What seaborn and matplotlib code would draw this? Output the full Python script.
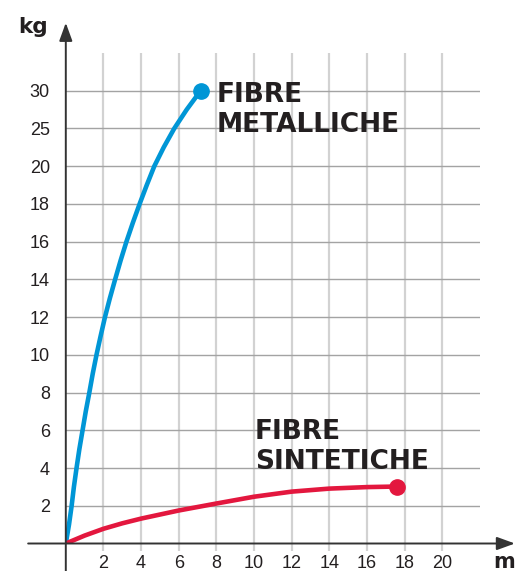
import numpy as np
import seaborn as sns
import matplotlib
matplotlib.use("Agg")
import matplotlib.pyplot as plt

# dati (m = metri, kg = carico)
metal_kg = [0, 1, 2, 3, 4, 5, 6, 7, 8, 9, 10, 11, 12, 13, 14, 15, 16, 17, 18, 19, 20,
            22.5, 25, 27.5, 30]
metal_m = [0, 0.17, 0.31, 0.43, 0.57, 0.72, 0.89, 1.06, 1.25, 1.43, 1.63, 1.85, 2.08,
           2.34, 2.62, 2.91, 3.22, 3.56, 3.92, 4.30, 4.70, 5.20, 5.76, 6.42, 7.16]

sint_m = [0, 1, 2, 3, 4, 6, 8, 10, 12, 14, 16, 17.6]
sint_kg = [0, 0.42, 0.78, 1.07, 1.32, 1.75, 2.12, 2.48, 2.75, 2.91, 2.99, 3.02]

x_ticks = [2, 4, 6, 8, 10, 12, 14, 16, 18, 20]
y_ticks = [2, 4, 6, 8, 10, 12, 14, 16, 18, 20, 25, 30]

BLUE = "#0096d6"
RED = "#e3173e"
INK = "#231f20"

sns.set_theme(style="white")
plt.rcParams["font.family"] = ["Liberation Sans", "DejaVu Sans"]


# asse y non lineare: passo 2 fino a 20, poi passo 5
def fwd(v):
    v = np.asarray(v, dtype=float)
    return np.where(v <= 20, v / 2, 10 + (v - 20) / 5)


def inv(i):
    i = np.asarray(i, dtype=float)
    return np.where(i <= 10, i * 2, 20 + (i - 10) * 5)


fig = plt.figure(figsize=(5.15, 5.71), dpi=100)
ax = fig.add_axes([65.8 / 515, 27.5 / 571, 22 * 18.83 / 515, 13 * 37.73 / 571])

sns.lineplot(x=metal_m, y=metal_kg, ax=ax, color=BLUE, lw=3.3, sort=False, estimator=None)
sns.lineplot(x=sint_m, y=sint_kg, ax=ax, color=RED, lw=3.3, sort=False, estimator=None)
ax.plot(metal_m[-1], metal_kg[-1], "o", color=BLUE, ms=11, zorder=5)
ax.plot(sint_m[-1], sint_kg[-1], "o", color=RED, ms=11, zorder=5)

ax.set_yscale("function", functions=(fwd, inv))
ax.set_xlim(0, 22)
ax.set_ylim(0, 35)

ax.set_xticks(x_ticks, labels=[str(t) for t in x_ticks])
ax.set_yticks(y_ticks, labels=[str(t) for t in y_ticks])
ax.tick_params(axis="x", length=5, width=1.6, color="#d2d2d2", pad=3.2,
               labelsize=13, labelcolor=INK, bottom=True)
ax.tick_params(axis="y", length=0, pad=11.4, labelsize=13, labelcolor=INK)

ax.grid(axis="x", color="#d2d2d2", lw=1.6)
ax.grid(axis="y", color="#a3a3a3", lw=1.0)
ax.set_axisbelow(True)
for s in ax.spines.values():
    s.set_visible(False)

# assi con freccia
arrow = dict(arrowstyle="-|>,head_length=1.1,head_width=0.4", color="#333333",
             lw=1.4, shrinkA=0, shrinkB=0, mutation_scale=10)
ax.annotate("", xy=(23.85, 0), xytext=(-2.0, 0), arrowprops=arrow,
            annotation_clip=False)
ax.annotate("", xy=(0, 39.0), xytext=(0, -1.8), arrowprops=arrow,
            annotation_clip=False)

fig.text(18 / 515, 1 - 33 / 571, "kg", fontsize=15.5, fontweight="bold",
         color=INK, family="DejaVu Sans", ha="left", va="baseline")
fig.text(493 / 515, 3 / 571, "m", fontsize=15, fontweight="bold",
         color=INK, family="DejaVu Sans", ha="left", va="baseline")

lab = dict(fontsize=19, fontweight="bold", color=INK, family="DejaVu Sans",
           ha="left", va="baseline", linespacing=1.2)
ax.text(8.03, 24.53, "FIBRE\nMETALLICHE", **lab)
ax.text(10.05, 3.95, "FIBRE\nSINTETICHE", **lab)

fig.savefig("out.png", dpi=100)
